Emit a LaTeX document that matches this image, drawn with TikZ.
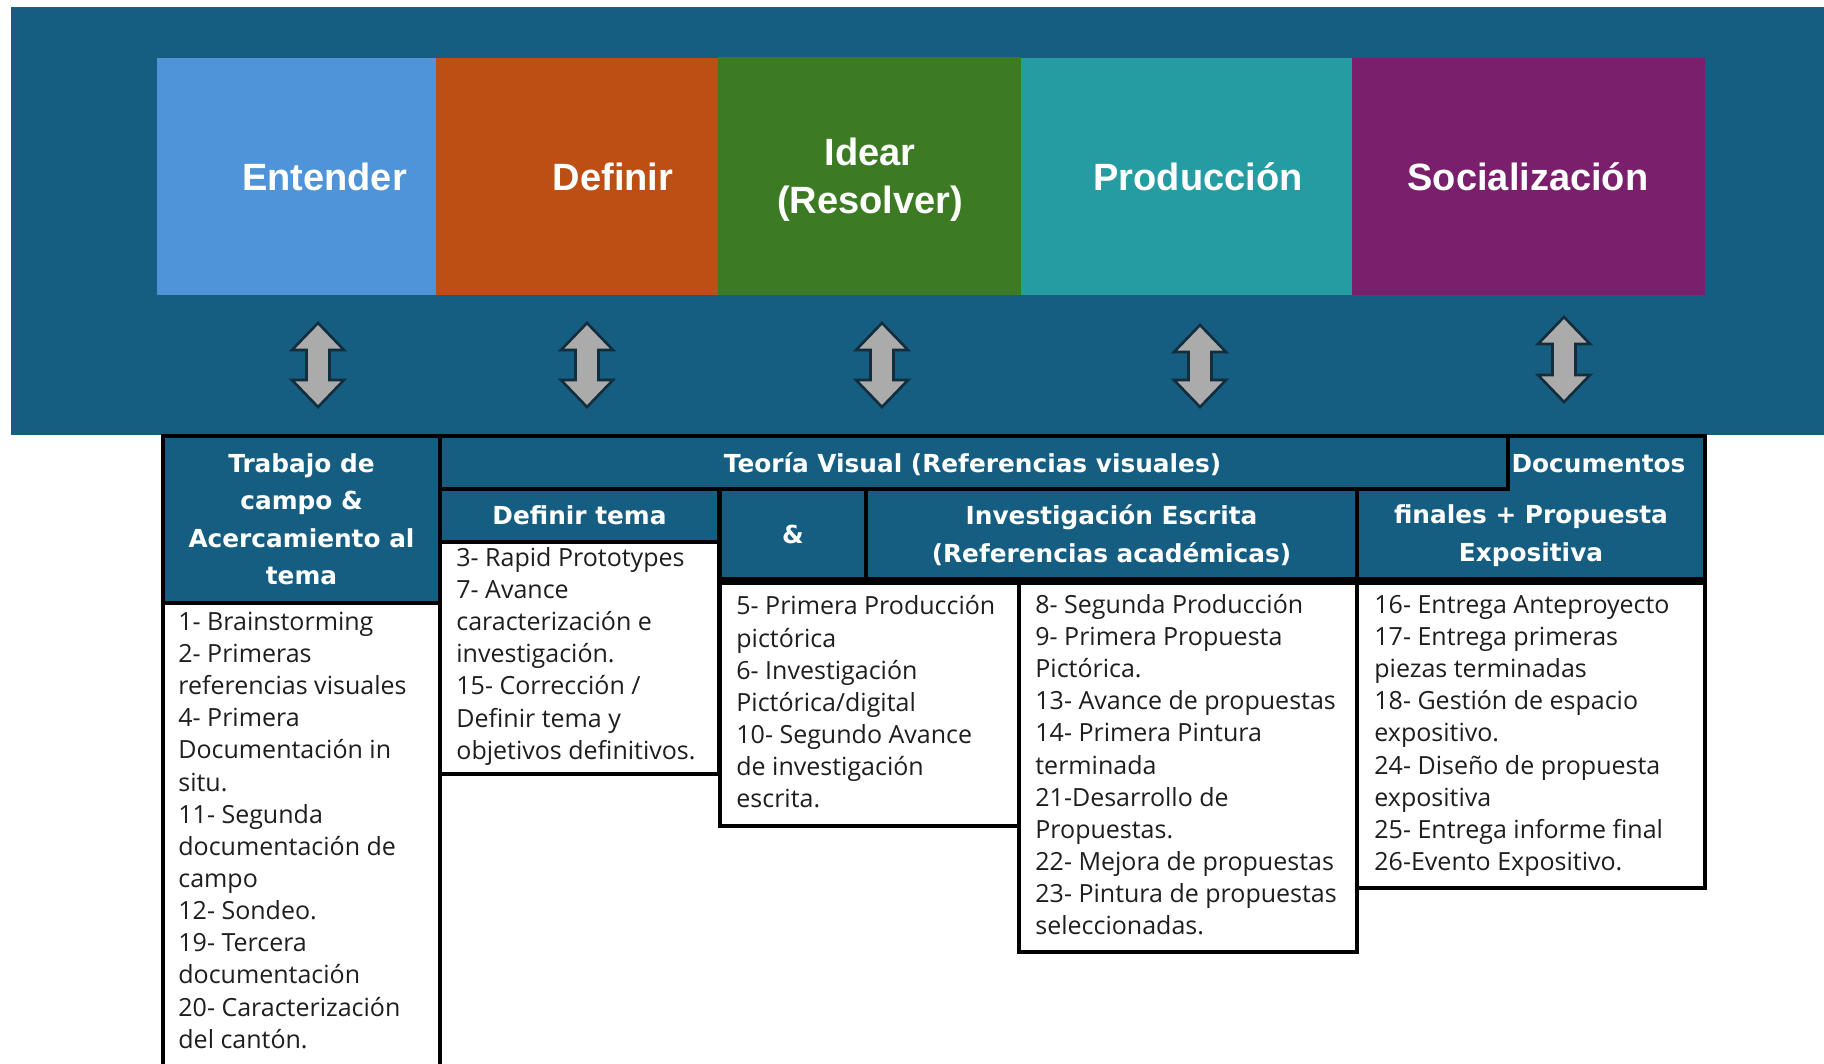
\documentclass[tikz,border=0pt]{standalone}
\usepackage{fontspec}
\setmainfont{Open Sans}
\newfontfamily\topfont{Liberation Sans}
\newfontfamily\hdrfont{DejaVu Sans}
\definecolor{bgblue}{RGB}{22,94,129}
\definecolor{cEnt}{RGB}{79,148,216}
\definecolor{cDef}{RGB}{190,79,20}
\definecolor{cIde}{RGB}{60,123,36}
\definecolor{cPro}{RGB}{37,156,162}
\definecolor{cSoc}{RGB}{122,31,108}
\definecolor{arrgray}{RGB}{171,171,171}
\definecolor{arredge}{RGB}{19,45,60}
\definecolor{txtgray}{RGB}{30,30,30}
\newcommand\dblarrow[3]{%
  \draw[arrowshape] (#1,#2) -- ++(26,27) -- ++(-14.5,0) -- ++(0,#3) -- ++(14.5,0)
    -- ++(-26,27) -- ++(-26,-27) -- ++(14.5,0) -- ++(0,-#3) -- ++(-14.5,0) -- cycle;}
\begin{document}
\begin{tikzpicture}[x=0.5pt,y=-0.5pt,
  toptext/.style={inner sep=0, text=white, font={\topfont\bfseries\fontsize{19}{24}\selectfont}},
  hdr/.style={inner sep=0, text=white, align=center, font={\hdrfont\bfseries\fontsize{12.4}{18.75}\selectfont}},
  body/.style={inner sep=0, text=txtgray, align=left, anchor=north west, font={\fontsize{12.5}{16.07}\selectfont}},
  cell/.style={draw=black, line width=2pt},
  hcell/.style={cell, fill=bgblue},
  bcell/.style={cell, fill=white},
  arrowshape/.style={fill=arrgray, draw=arredge, line width=1.3pt, line join=miter}]
\useasboundingbox (0,0) rectangle (1824,1064);
\fill[white] (0,0) rectangle (1824,1064);
% background
\fill[bgblue] (11,7) rectangle (1824,435);
% phase boxes
\fill[cEnt] (157,58) rectangle (436,295);
\fill[cDef] (436,58) rectangle (718,295);
\fill[cIde] (718,57) rectangle (1021,295);
\fill[cPro] (1021,58) rectangle (1352,295);
\fill[cSoc] (1352,58) rectangle (1705,295);
\node[toptext, anchor=base] (entender) at (324.5,190.5) {Entender};
\node[toptext, anchor=base] (definir) at (613,191) {Definir};
\node[toptext, anchor=north, align=center, font={\topfont\bfseries\fontsize{19}{24}\selectfont}] (idear) at (870,131.4) {\strut Idear\\(Resolver)};
\node[toptext, anchor=base] (produccion) at (1198,190.5) {Producción};
\node[toptext, anchor=base] (socializacion) at (1528,190.5) {Socialización};
% arrows
\dblarrow{318}{323}{30}
\dblarrow{587}{323}{30}
\dblarrow{882}{323}{30}
\dblarrow{1200}{325}{28}
\dblarrow{1564}{317}{31}
% table cells
\path[bcell] (163,603) rectangle (440,1080);
\path[hcell] (163,436) rectangle (440,603);
\path[hcell] (440,436) rectangle (1508,489);
\path[hcell] (440,489) rectangle (719,542);
\path[bcell] (440,542) rectangle (719,774);
\path[hcell] (720,489) rectangle (866,579);
\path[hcell] (866,489) rectangle (1357,579);
\path[hcell] (1508,436) -- (1705,436) -- (1705,579) -- (1357,579) -- (1357,489) -- (1508,489) -- cycle;
\path[bcell] (720,583) rectangle (1019,826);
\path[bcell] (1019,583) rectangle (1357,952);
\path[bcell] (1357,583) rectangle (1705,888);
% header texts
\node[hdr, anchor=north] (trabajo) at (301.5,445.8) {\strut Trabajo de\\campo \&\\Acercamiento al\\tema};
\node[hdr, anchor=base] (teoria) at (972.5,472) {Teoría Visual (Referencias visuales)};
\node[hdr, anchor=base] (definirtema) at (579.5,524) {Definir tema};
\node[hdr, anchor=base] (amp) at (793,543) {\&};
\node[hdr, anchor=north, font={\hdrfont\bfseries\fontsize{12.4}{19}\selectfont}] (invest) at (1111.5,497.4) {\strut Investigación Escrita\\(Referencias académicas)};
\node[hdr, anchor=base] (documentos) at (1598.5,472) {Documentos};
\node[hdr, anchor=north] (finales) at (1531,497) {\strut finales + Propuesta\\Expositiva};
% body texts
\node[body] (b1) at (178,607.5) {\strut 1- Brainstorming\\2- Primeras\\referencias visuales\\4- Primera\\Documentación in\\situ.\\11- Segunda\\documentación de\\campo\\12- Sondeo.\\19- Tercera\\documentación\\20- Caracterización\\del cantón.};
\node[body] (b2) at (456,543.5) {\strut 3- Rapid Prototypes\\7- Avance\\caracterización e\\investigación.\\15- Corrección /\\Definir tema y\\objetivos definitivos.};
\node[body] (b3) at (736,592) {\strut 5- Primera Producción\\pictórica\\6- Investigación\\Pictórica/digital\\10- Segundo Avance\\de investigación\\escrita.};
\node[body] (b4) at (1035,590.5) {\strut 8- Segunda Producción\\9- Primera Propuesta\\Pictórica.\\13- Avance de propuestas\\14- Primera Pintura\\terminada\\21-Desarrollo de\\Propuestas.\\22- Mejora de propuestas\\23- Pintura de propuestas\\seleccionadas.};
\node[body] (b5) at (1374,590.5) {\strut 16- Entrega Anteproyecto\\17- Entrega primeras\\piezas terminadas\\18- Gestión de espacio\\expositivo.\\24- Diseño de propuesta\\expositiva\\25- Entrega informe final\\26-Evento Expositivo.};
\end{tikzpicture}
\end{document}
